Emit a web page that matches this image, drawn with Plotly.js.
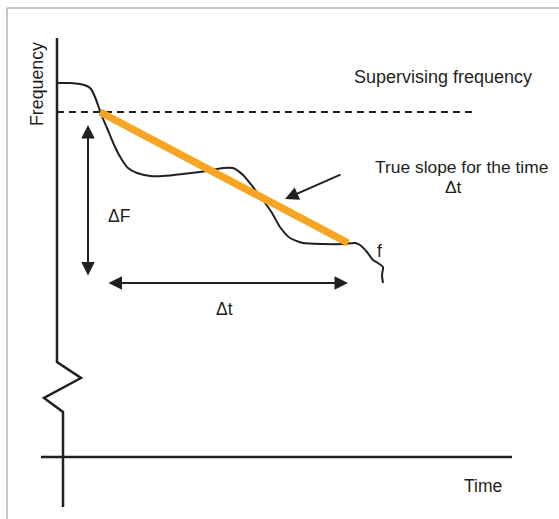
<!DOCTYPE html>
<html>
<head>
<meta charset="utf-8">
<script src="https://cdn.plot.ly/plotly-3.0.1.min.js"></script>
<style>html,body{margin:0;padding:0;background:#fff;}#chart{width:559px;height:519px;}</style>
</head>
<body>
<div id="chart"></div>
<script>
// Coordinate system: time (t) to the right, frequency (f) upward, origin at the axes crossing.

// Measured frequency curve f(t)
const curveT = [-6, 7, 17, 24, 28, 32, 36, 38, 44, 52, 59, 65, 74, 87, 100, 120, 144, 160, 170, 180, 190, 200, 209, 217, 227, 240, 260, 280, 292, 297, 304, 310, 315, 320, 319, 320];
const curveF = [374, 374, 373, 371, 368, 360, 349, 343, 329, 310, 297, 289, 284, 281, 281, 283, 286, 289, 289, 282, 270, 257, 244, 230, 219, 214, 213, 213, 214, 212, 205, 197, 194, 190, 182, 174];

// Supervising frequency level (dashed)
const supT = [-6, 409];
const supF = [345, 345];

// True slope over the time Δt
const slopeT = [37, 285];
const slopeF = [345, 214];

// Frequency axis (with break) and time axis
const fAxisT = [-6, -6, 18, -19, 0, 0];
const fAxisF = [419, 95, 79, 59, 45, -50];
const tAxisT = [-22, 449];
const tAxisF = [0, 0];

// ΔF and Δt double arrows, slope pointer arrow: [t0, f0, t1, f1]
const dFArrow = [25, 180, 25, 332];
const dTArrow = [44, 174, 285, 174];
const slopeArrow = [279, 283, 222, 258];

// Labels: [text, t, f, angle, size]
const labels = [
  ["Frequency", -26, 373, -90, 17.8],
  ["Supervising frequency", 379.5, 380, 0, 18],
  ["True slope for the time", 398.5, 290, 0, 17.4],
  ["\u0394t", 390.5, 270, 0, 17.4],
  ["\u0394F", 56, 241, 0, 17.5],
  ["\u0394t", 161, 148, 0, 17.5],
  ["f", 316.5, 206, 0, 17.5],
  ["Time", 419.5, -29, 0, 17.5]
];

const ink = '#231f20';
const fontFamily = '"Liberation Sans", Arial, Helvetica, sans-serif';

const traces = [
  {x: tAxisT, y: tAxisF, mode: 'lines', line: {color: ink, width: 2.5}},
  {x: fAxisT, y: fAxisF, mode: 'lines', line: {color: ink, width: 2.5}},
  {x: supT, y: supF, mode: 'lines', line: {color: ink, width: 2, dash: '7px,5px'}},
  {x: curveT, y: curveF, mode: 'lines', line: {color: ink, width: 2, shape: 'spline', smoothing: 0.6}},
  {x: slopeT, y: slopeF, mode: 'lines', line: {color: '#F6A623', width: 7.5}}
];

const annotations = labels.map(l => ({
  text: l[0], x: l[1], y: l[2], xref: 'x', yref: 'y', textangle: l[3],
  showarrow: false, xanchor: 'center', yanchor: 'middle',
  font: {family: fontFamily, size: l[4], color: ink}
}));

function arrow(a, side) {
  return {
    x: a[2], y: a[3], ax: a[0], ay: a[1], xref: 'x', yref: 'y', axref: 'x', ayref: 'y',
    text: '', showarrow: true, arrowhead: 2, startarrowhead: 2, arrowside: side,
    arrowsize: 1.35, startarrowsize: 1.35, arrowwidth: 2, arrowcolor: ink, standoff: 0, startstandoff: 0
  };
}
annotations.push(arrow(dFArrow, 'end+start'));
annotations.push(arrow(dTArrow, 'end+start'));
annotations.push(arrow(slopeArrow, 'end'));

const layout = {
  width: 559, height: 519,
  margin: {l: 0, r: 0, t: 0, b: 0},
  paper_bgcolor: '#ffffff', plot_bgcolor: '#ffffff',
  showlegend: false,
  xaxis: {range: [-63, 496], visible: false, fixedrange: true},
  yaxis: {range: [-62, 457], visible: false, fixedrange: true},
  annotations: annotations,
  shapes: [
    {type: 'line', xref: 'paper', yref: 'paper', x0: 7/559, x1: 1, y0: 1 - 8/519, y1: 1 - 8/519, line: {color: '#b3b3b3', width: 1.5}},
    {type: 'line', xref: 'paper', yref: 'paper', x0: 7/559, x1: 7/559, y0: 0, y1: 1 - 8/519, line: {color: '#b3b3b3', width: 1.5}}
  ]
};

Plotly.newPlot('chart', traces, layout, {staticPlot: true, displayModeBar: false});
</script>
</body>
</html>
